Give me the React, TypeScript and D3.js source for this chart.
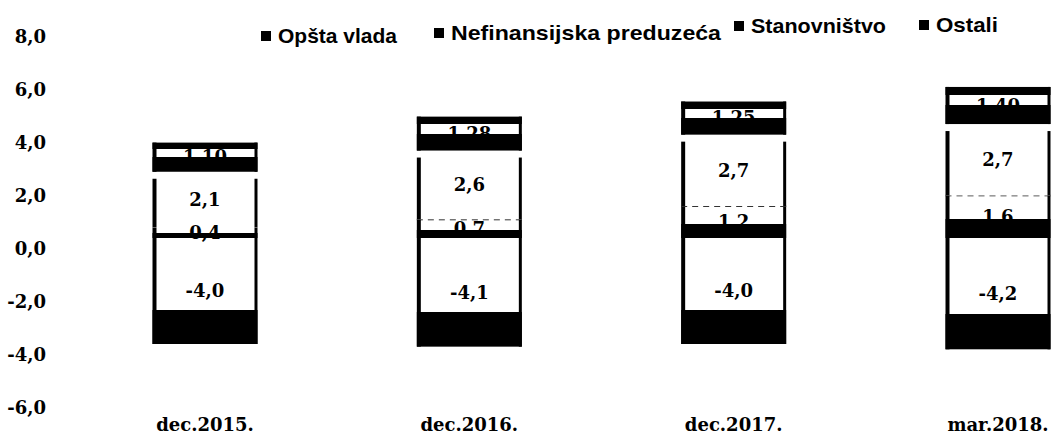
import React from 'react';
import * as d3 from 'd3';

// values
const categories = ['dec.2015.', 'dec.2016.', 'dec.2017.', 'mar.2018.'];
const opstaVlada = [-4.0, -4.1, -4.0, -4.2];
const nefinansijska = [0.4, 0.7, 1.2, 1.6];
const stanovnistvo = [2.1, 2.6, 2.7, 2.7];
const ostali = [1.1, 1.28, 1.25, 1.4];
const yTicks = [8, 6, 4, 2, 0, -2, -4, -6];
const legendNames = ['Opšta vlada', 'Nefinansijska preduzeća', 'Stanovništvo', 'Ostali'];

const W = 1059;
const H = 442;

const locale = d3.formatLocale({ decimal: ',', thousands: '.', grouping: [3], currency: ['', ''], minus: '-' });
const f1 = locale.format('.1f');
const f2 = locale.format('.2f');

// gradient stops mimic the thresholded scan (white / black bands)
const series = [
  { key: 'opsta', values: opstaVlada, fmt: f1, stops: [[0, '#fff'], [0.68, '#fff'], [0.68, '#000'], [1, '#000']] },
  { key: 'nef', values: nefinansijska, fmt: f1, stops: [[0, '#fff'], [0.55, '#fff'], [0.55, '#000'], [1, '#000']] },
  { key: 'stan', values: stanovnistvo, fmt: f1, stops: [[0, '#fff'], [1, '#fff']] },
  { key: 'ostali', values: ostali, fmt: f2, stops: [[0, '#000'], [0.22, '#000'], [0.22, '#fff'], [0.5, '#fff'], [0.5, '#000'], [1, '#000']] },
];

// legend placement (scan is slightly skewed)
const legendX = [261, 434, 734, 919];
const legendY = [43, 40, 33, 32];
const legendW = [119, 270, 135, 62];

export default function App() {
  const x = d3.scalePoint<string>().domain(categories).range([205, 998]);
  const y = d3.scaleLinear().domain([-6, 8]).range([397, 26]);
  const barW = 105;

  // stacked segments: negatives from 0 downward, positives upward
  const segments: any[] = [];
  categories.forEach((c, i) => {
    let pos = 0;
    let neg = 0;
    series.forEach((s) => {
      const v = s.values[i];
      let y0: number, y1: number;
      if (v < 0) {
        y0 = neg;
        y1 = neg + v;
        neg = y1;
      } else {
        y0 = pos;
        y1 = pos + v;
        pos = y1;
      }
      segments.push({ cat: c, key: s.key, v, y0, y1, fmt: s.fmt });
    });
  });

  const serif = '"DejaVu Serif", "Liberation Serif", serif';
  const sans = '"Liberation Sans", Arial, sans-serif';

  return (
    <>
      <style>{'body{margin:0}'}</style>
      <svg width={W} height={H} style={{ display: 'block', background: '#fff' }}>
        <defs>
          {series.map((s) => (
            <linearGradient key={s.key} id={'g-' + s.key} x1="0" y1="0" x2="0" y2="1">
              {s.stops.map((st, j) => (
                <stop key={j} offset={st[0] as number} stopColor={st[1] as string} />
              ))}
            </linearGradient>
          ))}
        </defs>

        {/* y axis labels */}
        <g fontFamily={serif} fontWeight="bold" fontSize={18} fill="#000">
          {yTicks.map((t) => (
            <text key={t} x={46} y={y(t) + 11} dy="0.35em" textAnchor="end">
              {f1(t)}
            </text>
          ))}
        </g>

        {/* bars */}
        {segments.map((d, i) => {
          const top = Math.min(y(d.y0), y(d.y1));
          const h = Math.abs(y(d.y0) - y(d.y1));
          const left = (x(d.cat) as number) - barW / 2;
          const sideTop = d.key === 'stan' ? top + 7 : top;
          return (
            <g key={i}>
              <rect x={left} y={top} width={barW} height={h} fill={'url(#g-' + d.key + ')'} />
              <line x1={left + 2} x2={left + 2} y1={sideTop} y2={top + h} stroke="#000" strokeWidth={4} />
              <line x1={left + barW - 1.5} x2={left + barW - 1.5} y1={sideTop} y2={top + h} stroke="#000" strokeWidth={3} />
              {d.key === 'nef' && d.v > 0.5 && (
                <line x1={left} x2={left + barW} y1={top} y2={top} stroke="#000" strokeWidth={1.5} strokeDasharray="6 5" />
              )}
            </g>
          );
        })}

        {/* value labels */}
        <g fontFamily={serif} fontWeight="bold" fontSize={18} fill="#000" textAnchor="middle">
          {segments.map((d, i) => (
            <text key={i} x={x(d.cat)} y={(y(d.y0) + y(d.y1)) / 2} dy="0.35em">
              {d.fmt(d.v)}
            </text>
          ))}
        </g>

        {/* category labels */}
        <g fontFamily={serif} fontWeight="bold" fontSize={18} fill="#000" textAnchor="middle">
          {categories.map((c) => (
            <text key={c} x={x(c)} y={431}>
              {c}
            </text>
          ))}
        </g>

        {/* legend */}
        <g fontFamily={sans} fontWeight="bold" fontSize={21} fill="#000">
          {legendNames.map((n, i) => (
            <g key={n} transform={`translate(${legendX[i]},${legendY[i]})`}>
              <rect x={0} y={-12} width={10} height={10} fill="#000" />
              <text x={17} y={0} textLength={legendW[i]} lengthAdjust="spacingAndGlyphs">
                {n}
              </text>
            </g>
          ))}
        </g>
      </svg>
    </>
  );
}
